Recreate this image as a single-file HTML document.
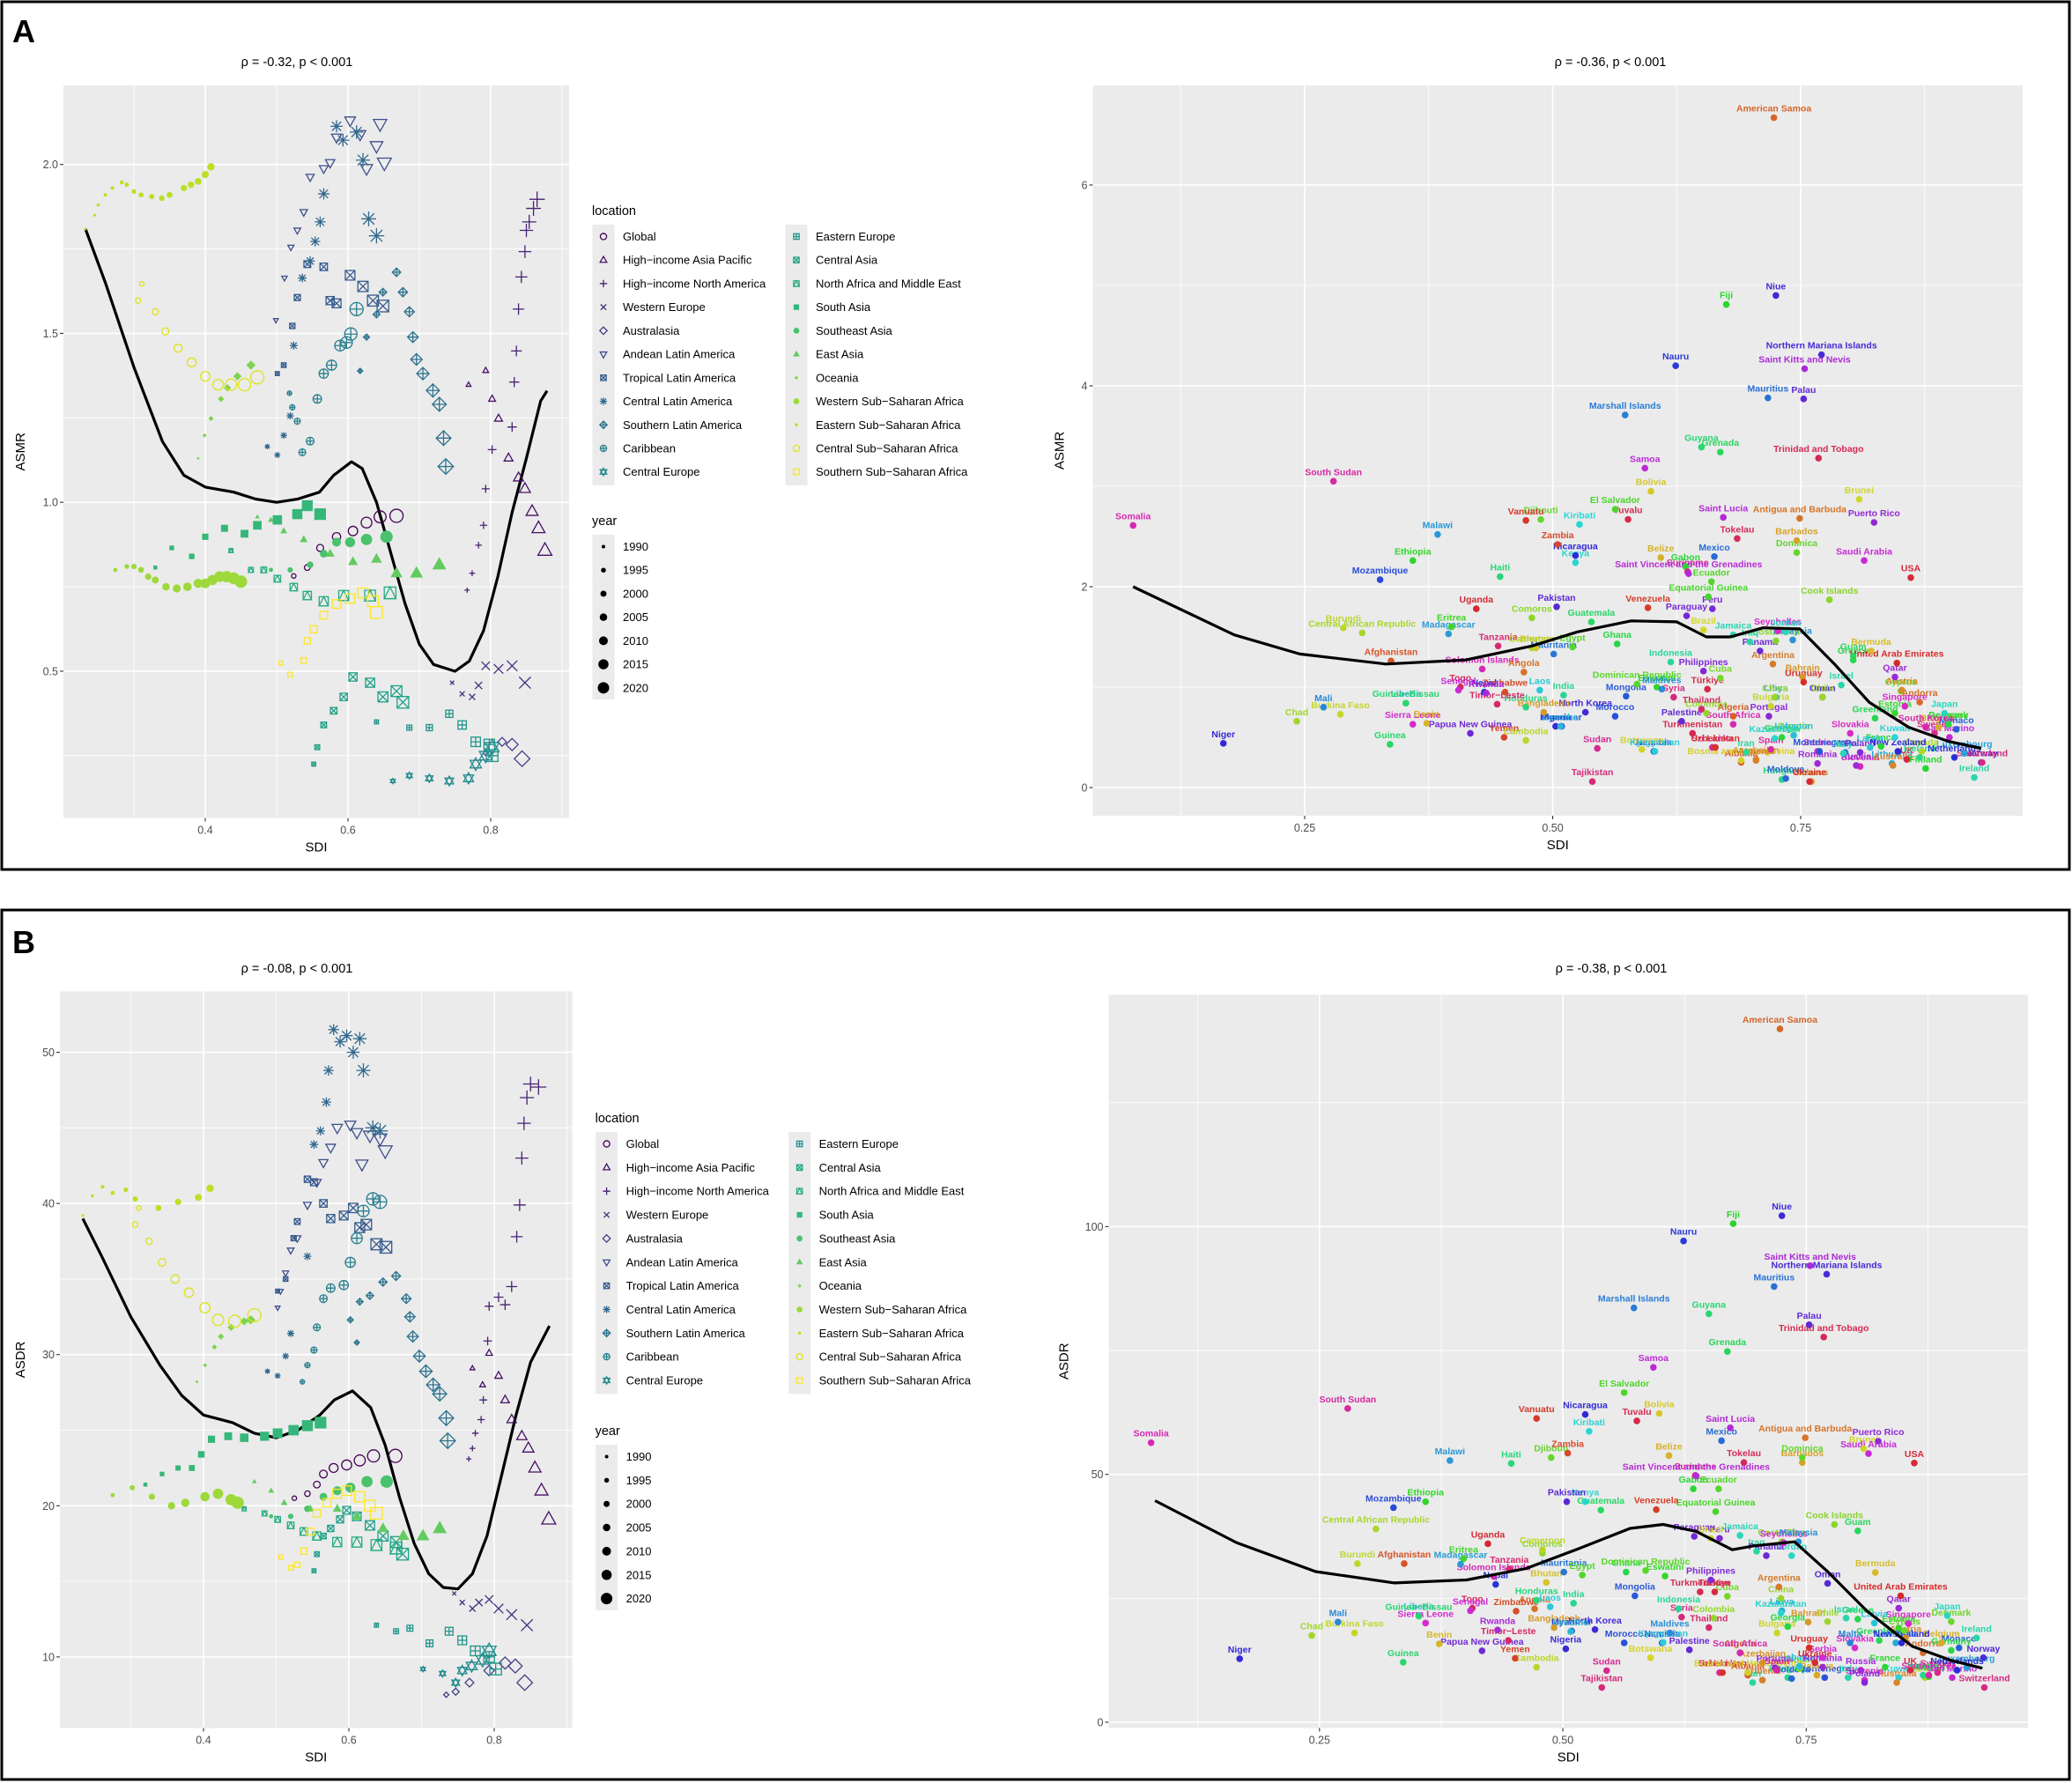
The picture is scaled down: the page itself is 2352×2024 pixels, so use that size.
<!DOCTYPE html>
<html><head><meta charset="utf-8">
<style>
html,body{margin:0;padding:0;background:#fff;}
svg{display:block;font-family:"Liberation Sans",Arial,sans-serif;}
</style></head>
<body>
<svg id="chart" xmlns="http://www.w3.org/2000/svg" width="2352" height="2024" viewBox="0 0 2352 2024">
<rect x="0" y="0" width="2352" height="2024" fill="#fff"/>
<rect x="2" y="2" width="2347" height="985" fill="none" stroke="#000" stroke-width="3"/>
<rect x="2" y="1033" width="2347" height="987" fill="none" stroke="#000" stroke-width="3"/>
<text x="14" y="48" font-size="36" font-weight="bold">A</text>
<text x="14" y="1082" font-size="36" font-weight="bold">B</text>
</svg>
<script>
// ---------- data ----------
const regionNames=["Global","High\u2212income Asia Pacific","High\u2212income North America","Western Europe","Australasia","Andean Latin America","Tropical Latin America","Central Latin America","Southern Latin America","Caribbean","Central Europe","Eastern Europe","Central Asia","North Africa and Middle East","South Asia","Southeast Asia","East Asia","Oceania","Western Sub\u2212Saharan Africa","Eastern Sub\u2212Saharan Africa","Central Sub\u2212Saharan Africa","Southern Sub\u2212Saharan Africa"];
const regionColors=["#440154","#471164","#482173","#46307E","#423F85","#3D4E8A","#375B8D","#31688E","#2D738E","#287F8E","#248A8D","#20958B","#1FA188","#25AC82","#35B779","#4AC16D","#62CB5F","#7FD34E","#9DD93B","#BCDF27","#DDE318","#FDE725"];
const yearLabels=["1990","1995","2000","2005","2010","2015","2020"];

const regionSdiA=[
[.524,.543,.561,.584,.607,.626,.645,.668],
[.769,.793,.802,.811,.825,.839,.848,.858,.867,.876],
[.767,.774,.783,.79,.793,.802,.83,.833,.836,.839,.843,.848,.85,.854,.86,.865],
[.746,.76,.774,.783,.793,.811,.83,.848],
[.793,.816,.83,.844],
[.499,.511,.52,.529,.538,.547,.566,.575,.584,.603,.617,.626,.64,.645,.651],
[.501,.51,.522,.529,.543,.566,.575,.584,.603,.621,.635,.649],
[.487,.501,.51,.519,.524,.536,.547,.554,.561,.566,.584,.593,.612,.621,.629,.64],
[.617,.626,.64,.649,.668,.677,.686,.691,.696,.705,.719,.728,.734,.737],
[.518,.522,.529,.536,.547,.557,.566,.577,.589,.598,.604,.612],
[.663,.686,.714,.742,.769,.779,.793,.802],
[.64,.686,.714,.742,.76,.779,.798,.802],
[.552,.557,.566,.58,.594,.607,.631,.649,.668,.677],
[.436,.464,.482,.501,.524,.543,.566,.594,.631,.659],
[.33,.353,.381,.40,.427,.455,.473,.501,.529,.543,.561],
[.492,.519,.547,.566,.584,.603,.626,.654],
[.473,.492,.51,.538,.575,.607,.64,.668,.696,.728],
[.39,.399,.408,.422,.431,.445,.464],
[.274,.29,.30,.31,.32,.33,.345,.36,.375,.39,.40,.41,.42,.43,.44,.45],
[.232,.245,.25,.26,.27,.283,.29,.30,.31,.325,.339,.35,.37,.38,.39,.40,.408],
[.311,.306,.33,.344,.362,.381,.40,.418,.436,.455,.473],
[.506,.519,.538,.543,.552,.566,.584,.603,.621,.635,.64]];
const regionAsmr=[
[.782,.807,.865,.898,.915,.94,.957,.96],
[1.348,1.39,1.306,1.248,1.131,1.073,1.04,.973,.923,.857],
[.74,.79,.873,.932,1.04,1.156,1.223,1.356,1.448,1.572,1.667,1.742,1.805,1.83,1.87,1.897],
[.466,.433,.424,.458,.516,.507,.516,.466],
[.258,.291,.283,.241],
[1.539,1.664,1.755,1.805,1.859,1.963,1.988,2.005,2.08,2.13,2.089,1.988,2.055,2.12,2.005],
[1.381,1.406,1.522,1.606,1.705,1.697,1.597,1.589,1.672,1.639,1.597,1.581],
[1.165,1.14,1.198,1.256,1.464,1.664,1.714,1.772,1.83,1.913,2.113,2.072,2.096,2.013,1.839,1.789],
[1.389,1.489,1.556,1.622,1.681,1.622,1.564,1.489,1.423,1.381,1.331,1.29,1.19,1.106],
[1.323,1.281,1.24,1.148,1.181,1.306,1.381,1.406,1.464,1.473,1.498,1.572],
[.175,.191,.183,.175,.183,.225,.25,.275],
[.35,.333,.333,.374,.341,.291,.283,.25],
[.225,.275,.341,.383,.424,.483,.466,.424,.441,.408],
[.857,.80,.80,.774,.749,.724,.707,.724,.724,.732],
[.807,.865,.84,.898,.923,.907,.932,.948,.965,.99,.965],
[.80,.80,.815,.848,.882,.882,.89,.898],
[.957,.948,.915,.89,.848,.824,.832,.79,.79,.815],
[1.13,1.198,1.248,1.306,1.339,1.373,1.406],
[.80,.81,.81,.80,.78,.77,.75,.745,.75,.76,.76,.77,.78,.78,.775,.765],
[1.809,1.85,1.88,1.91,1.93,1.947,1.94,1.92,1.91,1.905,1.90,1.91,1.93,1.94,1.95,1.97,1.993],
[1.647,1.597,1.564,1.506,1.456,1.414,1.373,1.348,1.348,1.348,1.37],
[.524,.49,.532,.59,.624,.666,.699,.715,.732,.707,.674]];

const regionSdiB=[
[.525,.543,.556,.565,.579,.597,.615,.634,.664],
[.77,.784,.793,.806,.815,.824,.838,.847,.856,.865,.875],
[.765,.77,.774,.782,.785,.791,.793,.806,.815,.824,.831,.835,.838,.841,.845,.85,.861],
[.745,.756,.77,.779,.793,.806,.824,.845],
[.734,.747,.766,.793,.815,.829,.842],
[.502,.506,.513,.52,.529,.543,.556,.565,.575,.584,.602,.611,.618,.629,.643,.65],
[.502,.513,.524,.529,.543,.552,.565,.575,.593,.606,.615,.624,.638,.651],
[.488,.502,.513,.52,.543,.552,.561,.569,.572,.579,.588,.597,.606,.615,.62,.633,.643],
[.611,.602,.615,.629,.647,.665,.679,.684,.688,.697,.706,.716,.725,.734,.736],
[.536,.543,.552,.556,.565,.575,.593,.602,.611,.62,.633,.643],
[.702,.729,.747,.756,.769,.784,.793],
[.638,.665,.684,.711,.738,.756,.774,.793,.802],
[.552,.556,.565,.575,.588,.597,.611,.629,.647,.665,.674],
[.456,.484,.502,.52,.538,.556,.584,.611,.638,.665],
[.32,.343,.365,.384,.397,.411,.434,.456,.484,.502,.524,.543,.561],
[.493,.52,.543,.565,.584,.602,.625,.652],
[.47,.493,.511,.547,.584,.611,.647,.675,.702,.725],
[.391,.402,.415,.424,.438,.456,.465],
[.275,.302,.329,.356,.375,.402,.42,.438,.447],
[.234,.247,.261,.275,.293,.306,.338,.365,.393,.409],
[.311,.306,.325,.343,.361,.38,.402,.42,.443,.47],
[.506,.52,.529,.538,.547,.556,.57,.584,.597,.615,.629,.638]];
const regionAsdr=[
[20.5,20.8,21.4,22.1,22.5,22.7,23.0,23.3,23.3],
[29.1,28.0,30.1,28.6,27.0,25.7,24.6,23.8,22.5,21.0,19.1],
[23.1,23.8,24.8,25.7,27.0,30.9,33.2,33.8,33.3,34.5,37.8,39.9,43.0,45.3,47.0,47.9,47.7],
[14.2,13.6,13.2,13.6,13.8,13.2,12.8,12.1],
[7.5,7.7,8.3,9.1,9.6,9.4,8.3],
[33.1,34.2,35.4,36.9,37.7,39.9,41.4,42.7,43.7,45.0,45.2,44.7,42.6,44.5,44.3,43.5],
[34.2,35.0,37.7,38.8,41.6,41.4,40.0,39.0,39.2,39.7,38.4,38.6,37.3,37.1],
[28.9,28.6,29.9,31.4,36.5,43.9,44.8,46.7,48.8,51.5,50.7,51.1,50.0,50.9,48.8,45.0,44.8],
[30.8,32.3,33.5,33.9,34.8,35.2,33.7,32.5,31.2,29.9,28.9,28.0,27.4,25.8,24.3],
[28.2,29.3,30.3,31.8,33.7,34.4,34.6,36.1,37.7,39.5,40.3,40.1],
[9.2,8.9,8.3,9.1,9.4,9.8,10.4],
[12.1,11.7,11.9,10.9,11.7,11.1,10.4,10.0,9.2],
[15.7,16.8,18.0,18.5,19.1,19.7,19.3,18.7,18.0,17.6,16.8],
[19.8,19.5,19.1,18.7,18.3,18.0,17.6,17.6,17.4,17.2],
[21.4,22.1,22.5,22.5,23.4,24.4,24.6,24.5,24.6,24.8,25.0,25.3,25.5],
[19.3,19.3,19.8,20.6,21.0,21.2,21.6,21.6],
[21.6,21.0,20.2,19.8,19.8,19.3,18.5,18.0,18.0,18.5],
[28.2,29.3,30.5,31.2,31.8,32.2,32.3],
[20.7,21.2,20.6,20.0,20.2,20.6,20.8,20.4,20.2],
[39.2,40.5,41.1,40.7,40.9,40.3,39.7,40.1,40.4,41.0],
[39.7,38.6,37.5,36.1,35.0,34.1,33.1,32.3,32.2,32.6],
[16.6,15.9,16.1,17.0,18.3,19.5,20.2,20.8,21.0,20.6,20.0,19.5]];

const smoothSdiLeftA=[.232,.26,.30,.34,.37,.40,.44,.47,.50,.53,.56,.58,.605,.62,.64,.66,.68,.70,.72,.75,.77,.79,.81,.83,.85,.87,.879];
const smoothValLeftA=[1.81,1.65,1.40,1.18,1.08,1.045,1.03,1.01,1.0,1.01,1.03,1.08,1.12,1.10,1.0,.85,.70,.58,.52,.50,.53,.62,.78,.97,1.13,1.30,1.33];
const smoothSdiLeftB=[.234,.26,.30,.34,.37,.40,.44,.47,.50,.53,.56,.58,.605,.63,.65,.67,.69,.71,.73,.75,.77,.79,.81,.83,.85,.876];
const smoothValLeftB=[39.0,36.5,32.5,29.3,27.3,26.0,25.5,24.8,24.5,25.0,26.0,27.0,27.6,26.5,24.0,20.5,17.5,15.5,14.6,14.5,15.5,18.0,22.0,26.0,29.5,31.9];
const smoothSdiRightA=[.077,.179,.245,.332,.412,.479,.525,.579,.625,.655,.679,.712,.749,.785,.819,.859,.899,.932];
const smoothValRightA=[2.0,1.52,1.33,1.23,1.27,1.41,1.55,1.66,1.65,1.50,1.50,1.59,1.58,1.22,.85,.60,.46,.39];
const smoothSdiRightB=[.081,.165,.246,.327,.401,.462,.516,.569,.603,.637,.674,.697,.738,.772,.812,.859,.9,.931];
const smoothValRightB=[44.7,36.2,30.4,28.1,28.7,31.0,35.0,39.1,39.9,38.5,34.8,35.6,36.4,30.4,22.5,15.3,12.4,10.9];

const countryNames=["American Samoa","Fiji","Niue","Nauru","Northern Mariana Islands","Saint Kitts and Nevis","Mauritius","Palau","Marshall Islands","Guyana","Grenada","Trinidad and Tobago","Samoa","South Sudan","Bolivia","Brunei","El Salvador","Somalia","Djibouti","Vanuatu","Tuvalu","Kiribati","Saint Lucia","Antigua and Barbuda","Puerto Rico","Malawi","Tokelau","Zambia","Barbados","Ethiopia","Nicaragua","Dominica","Mexico","Belize","Saudi Arabia","Kenya","Gabon","Suriname","Saint Vincent and the Grenadines","Mozambique","Haiti","USA","Ecuador","Paraguay","Equatorial Guinea","Peru","Cook Islands","Uganda","Pakistan","Venezuela","Comoros","Brazil","Costa Rica","Seychelles","Guatemala","Eritrea","Burundi","Central African Republic","Madagascar","Jamaica","Bermuda","Malaysia","Jordan","Ghana","Bhutan","Mauritania","Afghanistan","Solomon Islands","Tanzania","Cameroon","Egypt","Philippines","Iraq","Panama","Bahrain","Guam","Greece","Qatar","Singapore","United Arab Emirates","Japan","Denmark","Dominican Republic","Indonesia","Argentina","Libya","Oman","Angola","Togo","Nepal","Zimbabwe","Laos","India","Eswatini","Maldives","Cuba","Uruguay","Chile","Cyprus","Austria","Andorra","Israel","Estonia","Georgia","Sweden","Liberia","Senegal","Rwanda","Mali","Guinea\u2212Bissau","Honduras","North Korea","Mongolia","Syria","Thailand","T\u00fcrkiye","China","Croatia","Timor\u2212Leste","Bangladesh","Colombia","Algeria","Portugal","Bulgaria","Malta","Greenland","Belgium","Chad","Burkina Faso","Sierra Leone","Papua New Guinea","Benin","Nigeria","Myanmar","Morocco","Palestine","South Africa","Lebanon","Serbia","Slovakia","Kuwait","Monaco","Luxembourg","Niger","Guinea","Yemen","Cambodia","Lesotho","Turkmenistan","Namibia","Kazakhstan","Sudan","Botswana","Sri Lanka","Iran","Montenegro","France","Latvia","Canada","Norway","Italy","Kyrgyzstan","Uzbekistan","Azerbaijan","Romania","Slovenia","Lithuania","Switzerland","Tajikistan","Albania","Bosnia and Herzegovina","Hungary","Belarus","Russia","Australia","Finland","Ireland","Armenia","Moldova","Ukraine","Poland","New Zealand","UK","Iceland","Spain","Germany","Netherlands","South Korea","San Marino"];
const countrySdi=[.723,.675,.725,.624,.771,.754,.717,.753,.573,.65,.669,.768,.593,.279,.599,.809,.563,.077,.488,.473,.576,.527,.672,.749,.824,.384,.686,.505,.746,.359,.523,.746,.663,.609,.814,.523,.634,.636,.637,.326,.447,.861,.66,.635,.657,.661,.779,.423,.504,.596,.479,.652,.725,.727,.539,.398,.289,.308,.395,.682,.821,.742,.735,.565,.483,.501,.337,.429,.445,.479,.52,.652,.699,.709,.752,.803,.803,.845,.855,.847,.895,.899,.585,.619,.722,.725,.772,.471,.407,.431,.452,.487,.511,.605,.61,.669,.753,.772,.851,.852,.87,.791,.845,.731,.885,.352,.405,.433,.269,.352,.473,.533,.574,.622,.65,.656,.724,.743,.444,.491,.655,.682,.718,.72,.795,.825,.889,.242,.286,.359,.417,.373,.503,.509,.563,.63,.682,.743,.767,.80,.845,.907,.915,.168,.336,.451,.473,.508,.641,.602,.724,.545,.59,.661,.695,.769,.831,.82,.872,.932,.793,.603,.664,.705,.767,.81,.842,.933,.54,.69,.69,.731,.761,.806,.843,.876,.925,.705,.735,.759,.81,.848,.857,.87,.72,.899,.905,.876,.9];
const countryAsmr=[6.67,4.81,4.90,4.20,4.31,4.17,3.88,3.87,3.71,3.39,3.34,3.28,3.18,3.05,2.95,2.87,2.77,2.61,2.67,2.66,2.67,2.62,2.69,2.68,2.64,2.52,2.48,2.42,2.46,2.26,2.31,2.34,2.30,2.29,2.26,2.24,2.20,2.15,2.13,2.07,2.10,2.09,2.05,1.71,1.90,1.78,1.87,1.78,1.80,1.79,1.69,1.57,1.46,1.56,1.65,1.60,1.59,1.54,1.53,1.52,1.36,1.47,1.55,1.43,1.39,1.33,1.26,1.18,1.41,1.39,1.40,1.16,1.45,1.36,1.10,1.31,1.27,1.10,.81,1.24,.74,.63,1.03,1.25,1.23,.90,.90,1.15,1.00,.95,.95,.97,.92,1.00,.98,1.09,1.05,.90,.96,.97,.85,1.02,.74,.50,.54,.84,.97,.94,.80,.84,.80,.75,.91,.90,.78,.98,.90,.52,.83,.75,.74,.71,.71,.81,.35,.69,.60,.66,.73,.63,.54,.64,.61,.61,.71,.66,.63,.52,.36,.54,.50,.58,.34,.44,.43,.50,.47,.61,.54,.36,.49,.39,.38,.40,.35,.36,.41,.40,.36,.25,.34,.36,.40,.28,.24,.21,.24,.25,.06,.25,.27,.08,.06,.22,.22,.19,.10,.27,.09,.06,.35,.36,.28,.30,.38,.63,.30,.60,.50];
const countryAsdr=[139.9,100.6,102.2,97.1,90.4,92.1,87.9,80.2,83.6,82.4,74.8,77.7,71.6,63.3,62.3,55.2,66.5,56.4,53.4,61.3,60.8,58.7,59.4,57.4,56.7,52.8,52.4,54.3,52.4,44.5,62.1,53.4,56.8,53.8,54.2,44.5,47.1,49.8,49.7,43.3,52.2,52.3,47.1,37.5,42.5,37.1,39.9,36.0,44.5,42.9,34.1,37.1,36.4,36.2,42.8,33.0,32.0,39.0,31.9,37.7,30.2,36.4,33.6,30.3,28.2,30.3,32.0,29.4,30.9,34.8,29.7,28.7,34.5,33.6,20.2,38.6,20.8,23.0,19.9,25.5,21.5,20.3,30.6,22.9,27.3,22.5,28.0,22.9,23.0,27.8,22.4,23.3,24.0,29.5,18.0,25.4,15.0,20.3,18.5,17.0,14.0,21.0,19.0,19.3,10.0,21.5,22.5,18.6,20.2,21.4,24.6,18.7,25.5,21.2,19.1,26.3,25.0,10.8,16.5,19.1,21.0,14.0,11.0,18.0,16.0,16.5,16.0,17.5,18.0,20.0,14.4,15.8,14.8,18.4,16.0,14.6,14.0,11.3,13.0,15.0,9.0,15.0,11.0,12.8,12.1,12.9,11.1,18.3,26.3,16.0,22.0,10.4,13.0,10.0,8.0,9.0,11.1,20.0,9.0,13.0,9.0,16.1,10.0,12.0,11.1,8.5,16.0,7.0,7.0,9.5,10.0,9.0,9.5,10.5,8.0,9.2,17.0,8.5,8.8,12.0,8.0,16.0,10.5,9.5,10.5,14.5,10.5,9.5,9.0];

// tick labels
const xTicksLeft=[0.4,0.6,0.8];
const yTicksLeftA=[0.5,1.0,1.5,2.0];
const yTicksLeftB=[10,20,30,40,50];
const xTicksRight=[0.25,0.50,0.75];
const yTicksRightA=[0,2,4,6];
const yTicksRightB=[0,50,100];

// ---------- helpers ----------
const NS="http://www.w3.org/2000/svg";
const svg=document.getElementById("chart");
function mk(tag,attrs,parent){const e=document.createElementNS(NS,tag);for(const k in attrs)e.setAttribute(k,attrs[k]);(parent||svg).appendChild(e);return e;}

function marker(shape,cx,cy,r,col,parent){
  const g=mk("g",{},parent);
  
  
  const st={fill:"none",stroke:col,"stroke-width":1.3};
  const f={fill:col,stroke:"none"};
  const a=r*0.75;
  const tri=(s)=>`${cx},${cy-s*r} ${cx+0.9*r},${cy+s*0.6*r} ${cx-0.9*r},${cy+s*0.6*r}`;
  const plus=`M${cx-r},${cy}H${cx+r}M${cx},${cy-r}V${cy+r}`;
  const cross=`M${cx-a},${cy-a}L${cx+a},${cy+a}M${cx-a},${cy+a}L${cx+a},${cy-a}`;
  const dia=`${cx},${cy-r} ${cx+r},${cy} ${cx},${cy+r} ${cx-r},${cy}`;
  switch(shape){
    case 0: case 20: mk("circle",Object.assign({cx:cx,cy:cy,r:r*0.85},st),g);break;
    case 1: mk("polygon",Object.assign({points:tri(1)},st),g);break;
    case 2: mk("path",Object.assign({d:plus},st),g);break;
    case 3: mk("path",Object.assign({d:cross},st),g);break;
    case 4: mk("polygon",Object.assign({points:dia},st),g);break;
    case 5: mk("polygon",Object.assign({points:tri(-1)},st),g);break;
    case 6: mk("rect",Object.assign({x:cx-a,y:cy-a,width:2*a,height:2*a},st),g);mk("path",Object.assign({d:cross},st),g);break;
    case 7: mk("path",Object.assign({d:plus+cross},st),g);break;
    case 8: mk("polygon",Object.assign({points:dia},st),g);mk("path",Object.assign({d:plus},st),g);break;
    case 9: mk("circle",Object.assign({cx:cx,cy:cy,r:r*0.85},st),g);mk("path",Object.assign({d:`M${cx-r*.85},${cy}H${cx+r*.85}M${cx},${cy-r*.85}V${cy+r*.85}`},st),g);break;
    case 10: mk("polygon",Object.assign({points:tri(1)},st),g);mk("polygon",Object.assign({points:tri(-1)},st),g);break;
    case 11: mk("rect",Object.assign({x:cx-a,y:cy-a,width:2*a,height:2*a},st),g);mk("path",Object.assign({d:`M${cx-a},${cy}H${cx+a}M${cx},${cy-a}V${cy+a}`},st),g);break;
    case 12: mk("rect",Object.assign({x:cx-a,y:cy-a,width:2*a,height:2*a},st),g);mk("path",Object.assign({d:cross},st),g);break;
    case 13: mk("rect",Object.assign({x:cx-a,y:cy-a,width:2*a,height:2*a},st),g);mk("polygon",Object.assign({points:`${cx},${cy-a} ${cx+a},${cy+a} ${cx-a},${cy+a}`},st),g);break;
    case 14: mk("rect",Object.assign({x:cx-a,y:cy-a,width:2*a,height:2*a},f),g);break;
    case 15: case 18: mk("circle",Object.assign({cx:cx,cy:cy,r:r*0.8},f),g);break;
    case 16: mk("polygon",Object.assign({points:tri(1)},f),g);break;
    case 17: mk("polygon",Object.assign({points:`${cx},${cy-a} ${cx+a},${cy} ${cx},${cy+a} ${cx-a},${cy}`},f),g);break;
    case 19: mk("circle",Object.assign({cx:cx,cy:cy,r:r*0.6},f),g);break;
    case 21: mk("rect",Object.assign({x:cx-a,y:cy-a,width:2*a,height:2*a},st),g);break;
  }
}

function panelFrame(p,name){
  const g=mk("g",{});
  
  
  const bg=mk("rect",{x:p.L,y:p.T,width:p.R-p.L,height:p.B-p.T,fill:"#EBEBEB"},g);
  
  
  p.xMin.forEach(v=>{const x=p.sx(v);if(x>p.L&&x<p.R){const l=mk("line",{x1:x,x2:x,y1:p.T,y2:p.B,stroke:"#fff","stroke-width":0.8},g);}});
  p.yMin.forEach(v=>{const y=p.sy(v);if(y>p.T&&y<p.B){const l=mk("line",{x1:p.L,x2:p.R,y1:y,y2:y,stroke:"#fff","stroke-width":0.8},g);}});
  p.xTicks.forEach(v=>{const x=p.sx(v);
    const l=mk("line",{x1:x,x2:x,y1:p.T,y2:p.B,stroke:"#fff","stroke-width":1.6},g);
    
    
    const t=mk("line",{x1:x,x2:x,y1:p.B,y2:p.B+4,stroke:"#333","stroke-width":1.1},g);
    
    
    const tx=mk("text",{x:x,y:p.B+18,"font-size":12.5,fill:"#4D4D4D","text-anchor":"middle"},g);
    
    
    tx.textContent=p.xFmt(v);});
  p.yTicks.forEach(v=>{const y=p.sy(v);
    const l=mk("line",{x1:p.L,x2:p.R,y1:y,y2:y,stroke:"#fff","stroke-width":1.6},g);
    
    
    const t=mk("line",{x1:p.L-4,x2:p.L,y1:y,y2:y,stroke:"#333","stroke-width":1.1},g);
    
    
    const tx=mk("text",{x:p.L-6,y:y+4.5,"font-size":12.5,fill:"#4D4D4D","text-anchor":"end"},g);
    
    
    tx.textContent=p.yFmt(v);});
  const ti=mk("text",{x:p.titleX,y:p.titleY,"font-size":14.5,"text-anchor":"middle",fill:"#000"},g);
  
  
  ti.textContent=p.title;
  const xl=mk("text",{x:(p.L+p.R)/2,y:p.B+38,"font-size":15,"text-anchor":"middle",fill:"#000"},g);
  
  
  xl.textContent="SDI";
  const yx=p.L-(p.yTitleOff);
  const yl=mk("text",{x:yx,y:(p.T+p.B)/2,"font-size":15,"text-anchor":"middle",fill:"#000",transform:`rotate(-90 ${yx} ${(p.T+p.B)/2})`},g);
  
  
  yl.textContent=p.yTitle;
  return g;
}

function smoothLine(p,xs,ys,name){
  const d=xs.map((v,i)=>(i?"L":"M")+p.sx(v).toFixed(1)+","+p.sy(ys[i]).toFixed(1)).join("");
  const l=mk("path",{d:d,fill:"none",stroke:"#000","stroke-width":3.2,"stroke-linejoin":"round"});
  
  
}

function drawLeft(p,sdiArr,valArr,pname){
  panelFrame(p,pname);
  smoothLine(p,p.smX,p.smY,"smooth-curve");
  sdiArr.forEach((xs,ri)=>{
    const g=mk("g",{});
    
    
    const n=xs.length;
    xs.forEach((v,k)=>{
      let r=3.0+5.8*k/Math.max(1,n-1);
      if(ri===17||ri===19) r*=0.8;
      marker(ri,p.sx(v),p.sy(valArr[ri][k]),r,regionColors[ri],g);
    });
  });
}

function drawLegend(lx,ty,gap,yearTy){
  const g=mk("g",{});
  
  
  const t=mk("text",{x:lx-13,y:ty+5,"font-size":14.5,fill:"#000"},g);
  
  
  t.textContent="location";
  const col2=lx+219;
  [lx,col2].forEach(cx=>{const s=mk("rect",{x:cx-12.5,y:ty+16,width:25,height:gap*11+2,fill:"#EBEBEB"},g);});
  regionNames.forEach((nm,i)=>{
    const cx=i<11?lx:col2, cy=ty+29.5+gap*(i%11);
    const e=mk("g",{},g);
    
    
    marker(i,cx,cy,(i===17||i===19)?3:4.2,regionColors[i],e);
    const tx=mk("text",{x:cx+22,y:cy+4.5,"font-size":13,fill:"#000"},e);
    
    
    tx.textContent=nm;
  });
  const yt=mk("text",{x:lx-13,y:yearTy+5,"font-size":14.5,fill:"#000"},g);
  
  
  yt.textContent="year";
  const s=mk("rect",{x:lx-12.5,y:yearTy+16,width:25,height:gap*7,fill:"#EBEBEB"},g);
  
  
  yearLabels.forEach((y,i)=>{
    const cy=yearTy+29.5+gap*i;
    const c=mk("circle",{cx:lx,cy:cy,r:2+i*0.75,fill:"#000"},g);
    
    
    const tx=mk("text",{x:lx+22,y:cy+4.5,"font-size":13,fill:"#000"},g);
    
    
    tx.textContent=y;
  });
}

const sortedNames=countryNames.slice().sort();
function countryColor(nm){const i=sortedNames.indexOf(nm);const h=(15+360*i/sortedNames.length)%360;return `hsl(${h.toFixed(0)},68%,50%)`;}

function drawRight(p,vals,pname){
  panelFrame(p,pname);
  const lg=mk("g",{});
  
  
  const pg=mk("g",{});
  
  
  countryNames.forEach((nm,i)=>{
    const x=p.sx(countrySdi[i]), y=p.sy(vals[i]); const col=countryColor(nm);
    const c=mk("circle",{cx:x,cy:y,r:3.8,fill:col},pg);
    
    
    const t=mk("text",{x:x,y:y-7,"font-size":10.5,"font-weight":"bold","font-family":"'Liberation Sans Narrow','Liberation Sans',sans-serif",fill:col,"text-anchor":"middle"},lg);
    
    
    t.textContent=nm;
  });
  smoothLine(p,p.smX,p.smY,"smooth-curve");
}

const f1=v=>v.toFixed(1), f0=v=>String(v), f2=v=>v.toFixed(2);
const rng=(a,b,s)=>{const r=[];for(let v=a;v<=b+1e-9;v+=s)r.push(+v.toFixed(4));return r;};

const AL={L:72,R:646,T:97,B:928.6,sx:v=>233+(v-0.4)*810,sy:v=>570.2-(v-1)*383.5,xTicks:xTicksLeft,yTicks:yTicksLeftA,xMin:rng(0.3,0.9,0.2),yMin:rng(0.25,2.25,0.5),xFmt:f1,yFmt:f1,title:"\u03c1 = -0.32, p < 0.001",titleX:337,titleY:75,yTitle:"ASMR",yTitleOff:44,smX:smoothSdiLeftA,smY:smoothValLeftA};
const AR={L:1240.5,R:2296,T:97,B:926,sx:v=>1481+(v-0.25)*1126,sy:v=>894-v*114,xTicks:xTicksRight,yTicks:yTicksRightA,xMin:rng(0.125,0.875,0.25),yMin:rng(1,7,2),xFmt:f2,yFmt:f0,title:"\u03c1 = -0.36, p < 0.001",titleX:1828,titleY:75,yTitle:"ASMR",yTitleOff:33,smX:smoothSdiRightA,smY:smoothValRightA};
const BL={L:68,R:649.6,T:1125.4,B:1961.5,sx:v=>231+(v-0.4)*825,sy:v=>1709.3-(v-20)*17.16,xTicks:xTicksLeft,yTicks:yTicksLeftB,xMin:rng(0.3,0.9,0.2),yMin:rng(5,55,10),xFmt:f1,yFmt:f0,title:"\u03c1 = -0.08, p < 0.001",titleX:337,titleY:1104,yTitle:"ASDR",yTitleOff:40,smX:smoothSdiLeftB,smY:smoothValLeftB};
const BR={L:1258.5,R:2302,T:1129,B:1961.5,sx:v=>1497.8+(v-0.25)*1105,sy:v=>1955-v*5.626,xTicks:xTicksRight,yTicks:yTicksRightB,xMin:rng(0.125,0.875,0.25),yMin:rng(25,125,50),xFmt:f2,yFmt:f0,title:"\u03c1 = -0.38, p < 0.001",titleX:1829,titleY:1104,yTitle:"ASDR",yTitleOff:46,smX:smoothSdiRightB,smY:smoothValRightB};

drawLeft(AL,regionSdiA,regionAsmr,"panel-a-region-plot");
drawLegend(685,239,26.72,591);
drawRight(AR,countryAsmr,"panel-a-country-plot");
drawLeft(BL,regionSdiB,regionAsdr,"panel-b-region-plot");
drawLegend(688.6,1269,26.85,1624);
drawRight(BR,countryAsdr,"panel-b-country-plot");
</script>
</body></html>
